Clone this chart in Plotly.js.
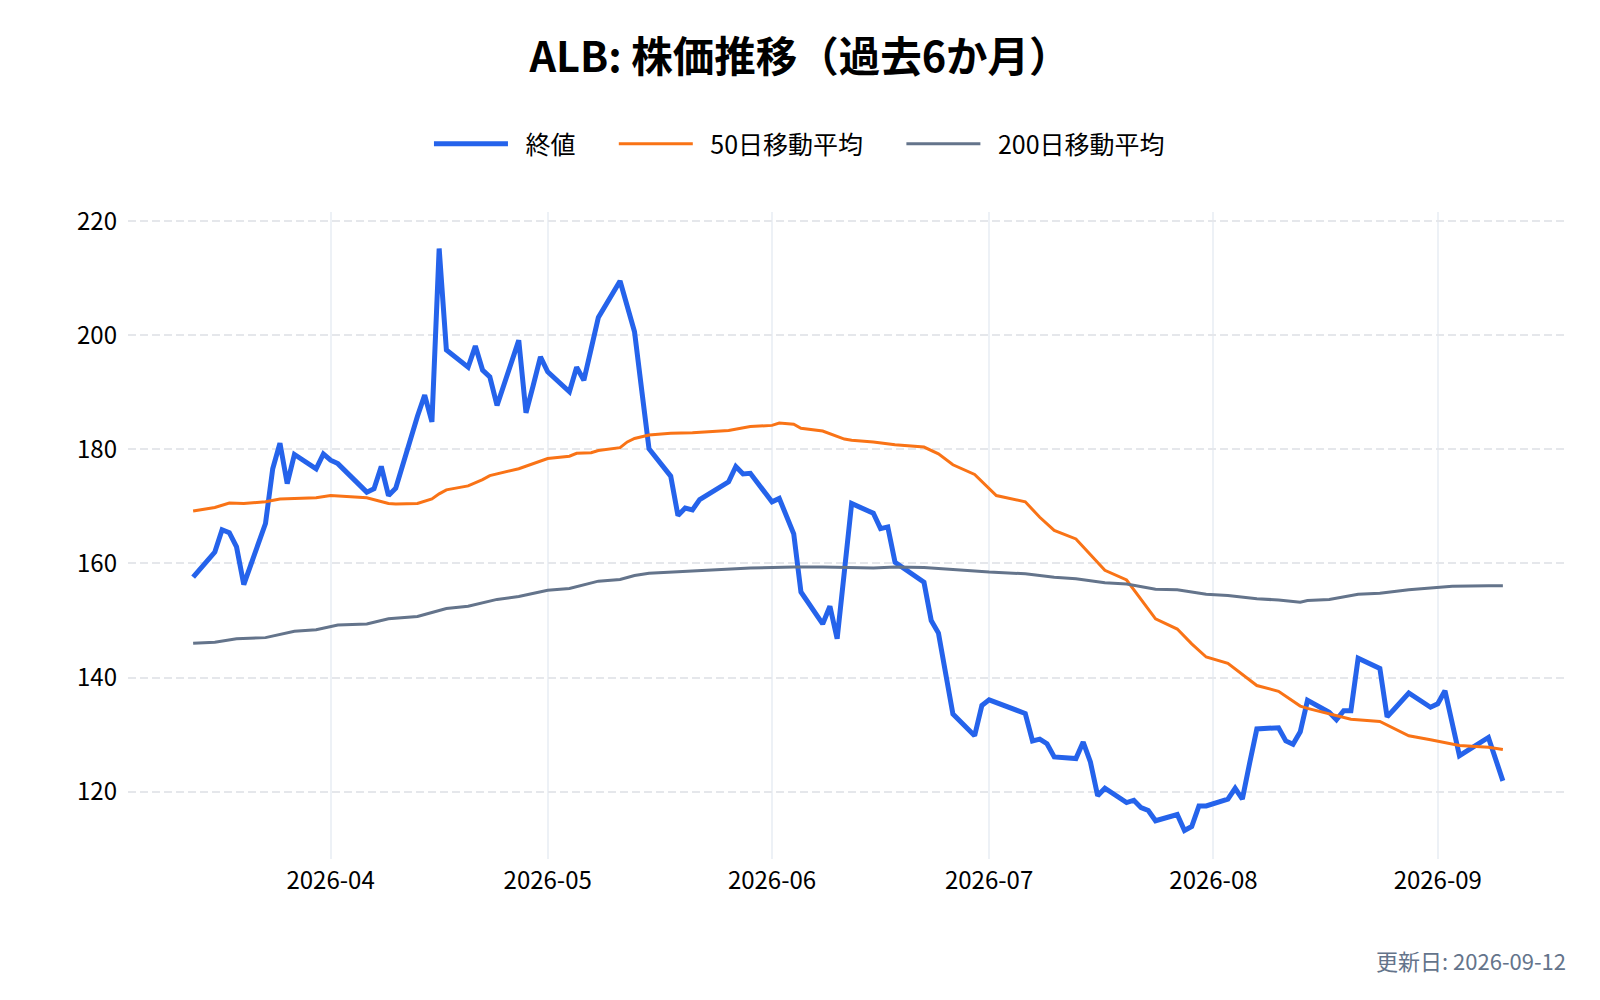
<!DOCTYPE html>
<html lang="ja">
<head>
<meta charset="utf-8">
<title>ALB: 株価推移</title>
<script src="https://cdn.plot.ly/plotly-3.0.1.min.js"></script>
<style>
  html, body { margin: 0; padding: 0; background: #ffffff; }
  #chart { width: 1600px; height: 1000px; }
</style>
</head>
<body>
<div id="chart"></div>
<script>
const ticker = 'ALB'
const updated = '2026-09-12'

// trading days (NYSE holidays skipped)
const dates = [
  '2026-03-13', '2026-03-16', '2026-03-17', '2026-03-18', '2026-03-19', '2026-03-20',
  '2026-03-23', '2026-03-24', '2026-03-25', '2026-03-26', '2026-03-27', '2026-03-30', '2026-03-31',
  '2026-04-01', '2026-04-02', '2026-04-06', '2026-04-07', '2026-04-08', '2026-04-09', '2026-04-10',
  '2026-04-13', '2026-04-14', '2026-04-15', '2026-04-16', '2026-04-17', '2026-04-20', '2026-04-21',
  '2026-04-22', '2026-04-23', '2026-04-24', '2026-04-27', '2026-04-28', '2026-04-29', '2026-04-30',
  '2026-05-01', '2026-05-04', '2026-05-05', '2026-05-06', '2026-05-07', '2026-05-08', '2026-05-11',
  '2026-05-12', '2026-05-13', '2026-05-14', '2026-05-15', '2026-05-18', '2026-05-19', '2026-05-20',
  '2026-05-21', '2026-05-22', '2026-05-26', '2026-05-27', '2026-05-28', '2026-05-29',
  '2026-06-01', '2026-06-02', '2026-06-03', '2026-06-04', '2026-06-05', '2026-06-08', '2026-06-09',
  '2026-06-10', '2026-06-11', '2026-06-12', '2026-06-15', '2026-06-16', '2026-06-17', '2026-06-18',
  '2026-06-22', '2026-06-23', '2026-06-24', '2026-06-25', '2026-06-26', '2026-06-29', '2026-06-30',
  '2026-07-01', '2026-07-02', '2026-07-06', '2026-07-07', '2026-07-08', '2026-07-09', '2026-07-10',
  '2026-07-13', '2026-07-14', '2026-07-15', '2026-07-16', '2026-07-17', '2026-07-20', '2026-07-21',
  '2026-07-22', '2026-07-23', '2026-07-24', '2026-07-27', '2026-07-28', '2026-07-29', '2026-07-30',
  '2026-07-31', '2026-08-03', '2026-08-04', '2026-08-05', '2026-08-06', '2026-08-07', '2026-08-10',
  '2026-08-11', '2026-08-12', '2026-08-13', '2026-08-14', '2026-08-17', '2026-08-18', '2026-08-19',
  '2026-08-20', '2026-08-21', '2026-08-24', '2026-08-25', '2026-08-26', '2026-08-27', '2026-08-28',
  '2026-08-31', '2026-09-01', '2026-09-02', '2026-09-03', '2026-09-04', '2026-09-08', '2026-09-09',
  '2026-09-10'
]

const close = [
  157.6, 162.0, 165.9, 165.4, 162.9, 156.3,
  167.0, 176.6, 181.1, 174.0, 179.1, 176.6, 179.2,
  178.1, 177.5, 172.5, 173.1, 177.0, 171.9, 173.2,
  185.8, 189.5, 184.8, 215.2, 197.4, 194.4, 198.1,
  193.9, 192.7, 187.7, 199.1, 186.4, 191.2, 196.2,
  193.6, 190.1, 194.4, 192.1, 197.6, 203.1, 209.5,
  205.0, 200.6, 190.3, 180.1, 175.3, 168.4, 169.7,
  169.4, 171.2, 174.3, 177.0, 175.7, 175.8,
  170.8, 171.4, 168.0, 165.2, 155.0, 149.4, 152.5,
  146.8, 158.6, 170.5, 168.8, 166.1, 166.4, 160.2,
  156.7, 150.0, 147.8, 140.7, 133.6, 129.8, 135.1,
  136.1, 135.6, 133.7, 128.9, 129.2, 128.4, 126.1,
  125.8, 128.7, 125.2, 119.3, 120.6, 118.1, 118.5,
  117.2, 116.7, 114.9, 116.0, 113.2, 113.9, 117.5,
  117.5, 118.7, 120.6, 118.7, 125.0, 131.0, 131.2,
  128.9, 128.3, 130.5, 136.0, 133.9, 132.6, 134.2,
  134.2, 143.4, 141.6, 133.1, 134.5, 135.9, 137.3,
  134.8, 135.4, 137.7, 132.0, 126.3, 129.5, 125.7,
  121.9
]

// moving averages, read where the line bends
const ma50Dates = [
  '2026-03-13', '2026-03-16', '2026-03-18', '2026-03-20', '2026-03-23', '2026-03-25', '2026-03-30',
  '2026-04-01', '2026-04-06', '2026-04-07', '2026-04-09', '2026-04-10', '2026-04-13', '2026-04-15',
  '2026-04-16', '2026-04-17', '2026-04-20', '2026-04-22', '2026-04-23', '2026-04-27', '2026-04-29',
  '2026-05-01', '2026-05-04', '2026-05-05', '2026-05-07', '2026-05-08', '2026-05-11', '2026-05-12',
  '2026-05-13', '2026-05-15', '2026-05-18', '2026-05-21', '2026-05-26', '2026-05-29',
  '2026-06-01', '2026-06-02', '2026-06-04', '2026-06-05', '2026-06-08', '2026-06-11', '2026-06-12',
  '2026-06-15', '2026-06-18', '2026-06-22', '2026-06-24', '2026-06-26', '2026-06-29',
  '2026-07-02', '2026-07-06', '2026-07-08', '2026-07-10', '2026-07-13', '2026-07-17', '2026-07-20',
  '2026-07-24', '2026-07-27', '2026-07-29', '2026-07-31',
  '2026-08-03', '2026-08-07', '2026-08-10', '2026-08-13', '2026-08-14', '2026-08-17', '2026-08-20',
  '2026-08-24', '2026-08-28', '2026-08-31', '2026-09-04', '2026-09-08', '2026-09-10'
]
const ma50 = [
  169.2, 169.8, 170.6, 170.5, 170.8, 171.3, 171.5,
  171.9, 171.5, 171.2, 170.5, 170.4, 170.5, 171.3,
  172.2, 172.9, 173.6, 174.7, 175.4, 176.6, 177.5,
  178.4, 178.8, 179.3, 179.4, 179.8, 180.3, 181.3,
  181.9, 182.5, 182.8, 182.9, 183.3, 184.0,
  184.2, 184.6, 184.4, 183.7, 183.2, 181.8, 181.6,
  181.3, 180.8, 180.4, 179.2, 177.3, 175.6,
  171.9, 170.8, 168.1, 165.8, 164.3, 158.8, 157.1,
  150.3, 148.5, 145.9, 143.6,
  142.5, 138.6, 137.6, 135.0, 134.6, 133.6, 132.7,
  132.3, 129.8, 129.1, 128.1, 127.8, 127.4
]

const ma200Dates = [
  '2026-03-13', '2026-03-16', '2026-03-19', '2026-03-23', '2026-03-27', '2026-03-30',
  '2026-04-02', '2026-04-06', '2026-04-09', '2026-04-13', '2026-04-15', '2026-04-17', '2026-04-20',
  '2026-04-24', '2026-04-27', '2026-05-01', '2026-05-04', '2026-05-08', '2026-05-11', '2026-05-13',
  '2026-05-15', '2026-05-18', '2026-05-22', '2026-05-29', '2026-06-04', '2026-06-08', '2026-06-15',
  '2026-06-18', '2026-06-22', '2026-06-26', '2026-07-01', '2026-07-06', '2026-07-10', '2026-07-13',
  '2026-07-17', '2026-07-20', '2026-07-24', '2026-07-27', '2026-07-31', '2026-08-03', '2026-08-07',
  '2026-08-10', '2026-08-13', '2026-08-14', '2026-08-17', '2026-08-21', '2026-08-24', '2026-08-28',
  '2026-08-31', '2026-09-03', '2026-09-08', '2026-09-10'
]
const ma200 = [
  146.0, 146.2, 146.8, 147.0, 148.1, 148.4,
  149.2, 149.4, 150.3, 150.7, 151.4, 152.1, 152.5,
  153.7, 154.2, 155.3, 155.6, 156.9, 157.2, 157.9,
  158.3, 158.5, 158.8, 159.2, 159.4, 159.4, 159.2,
  159.4, 159.3, 158.9, 158.5, 158.2, 157.6, 157.3,
  156.6, 156.4, 155.5, 155.4, 154.6, 154.4, 153.8,
  153.6, 153.2, 153.5, 153.7, 154.6, 154.8, 155.4,
  155.7, 156.0, 156.1, 156.1
]

const seriesNames = ['終値', '50日移動平均', '200日移動平均']
const seriesColors = ['#2563eb', '#f97316', '#64748b']

window.addEventListener('load', () => {
  drawChart()
})

/**
 * Pads a legend label so the spacing matches the reference
 * (gap after the line sample, and room before the next entry).
 * @param {String} name the series name
 * @param {Boolean} last whether this is the last legend entry
 */
function legendLabel (name, last) {
  return '\u2002' + name + (last ? '' : '\u2003\u2004')
}

/**
 * Draws the price line with its two moving averages.
 */
function drawChart () {
  const font = '"Noto Sans CJK JP", "Noto Sans", sans-serif'

  const data = [{
    x: dates,
    y: close,
    type: 'scatter',
    mode: 'lines',
    name: legendLabel(seriesNames[0], false),
    line: { color: seriesColors[0], width: 5 }
  }, {
    x: ma50Dates,
    y: ma50,
    type: 'scatter',
    mode: 'lines',
    name: legendLabel(seriesNames[1], false),
    line: { color: seriesColors[1], width: 3 }
  }, {
    x: ma200Dates,
    y: ma200,
    type: 'scatter',
    mode: 'lines',
    name: legendLabel(seriesNames[2], true),
    line: { color: seriesColors[2], width: 3 }
  }]

  const layout = {
    width: 1600,
    height: 1000,
    margin: { l: 128, r: 32, t: 212, b: 141 },
    paper_bgcolor: '#ffffff',
    plot_bgcolor: '#ffffff',
    font: { family: font, size: 24, color: '#000000' },
    title: {
      text: '<b>' + ticker + ': 株価推移（過去6か月）</b>',
      font: { family: font, size: 41.5, color: '#000000' },
      x: 0.5,
      xanchor: 'center',
      y: 0.943,
      yanchor: 'middle'
    },
    showlegend: true,
    legend: {
      orientation: 'h',
      x: 0.209,
      xanchor: 'left',
      y: 1.105,
      yanchor: 'middle',
      font: { family: font, size: 25, color: '#000000' },
      itemwidth: 74
    },
    xaxis: {
      type: 'date',
      range: ['2026-03-04', '2026-09-19'],
      tickformat: '%Y-%m',
      dtick: 'M1',
      showgrid: true,
      gridcolor: '#edf1f6',
      gridwidth: 2,
      zeroline: false,
      showline: false,
      ticks: '',
      ticklabelstandoff: 5,
      tickfont: { family: font, size: 24, color: '#000000' }
    },
    yaxis: {
      range: [108.2, 221.6],
      dtick: 20,
      showgrid: true,
      gridcolor: '#e5e7eb',
      gridwidth: 2,
      griddash: '8px,4px',
      zeroline: false,
      showline: false,
      ticks: '',
      ticklabelstandoff: 10,
      tickfont: { family: font, size: 24, color: '#000000' }
    },
    annotations: [{
      text: '更新日: ' + updated,
      xref: 'paper',
      yref: 'paper',
      x: 1,
      xanchor: 'right',
      y: (1000 - 960 - 141) / 647,
      yanchor: 'middle',
      showarrow: false,
      font: { family: font, size: 22, color: '#64748b' }
    }]
  }

  Plotly.newPlot('chart', data, layout, { displayModeBar: false, staticPlot: true })
}
</script>
</body>
</html>
